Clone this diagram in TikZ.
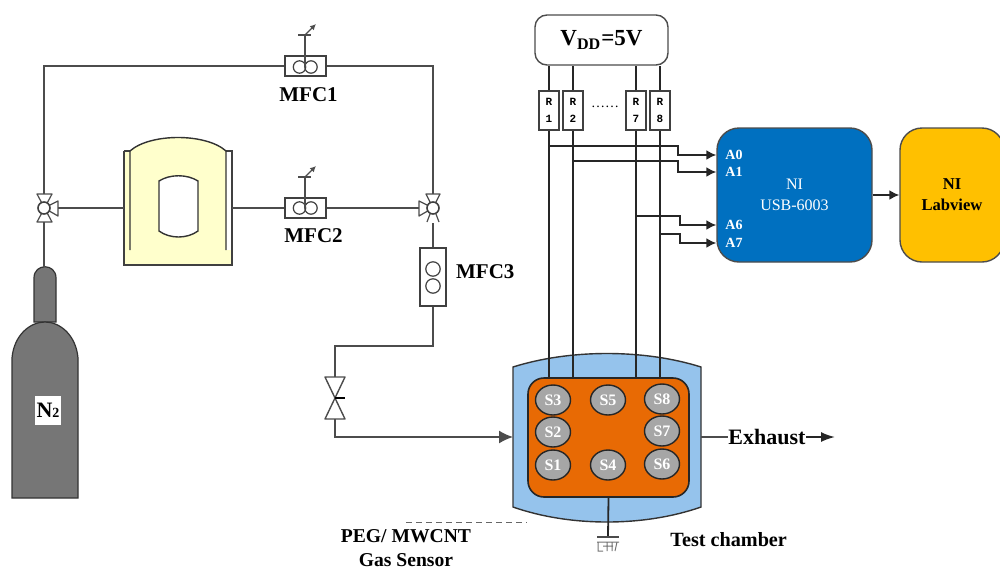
\documentclass[tikz,border=0pt]{standalone}
\usepackage{fontspec}
\setmainfont{Liberation Serif}
\setmonofont{Liberation Mono}
\usepackage{tikz}
\usetikzlibrary{arrows.meta,positioning,shapes.geometric}
\definecolor{SteelBlue}{RGB}{0,112,192}
\definecolor{AmberBox}{RGB}{255,192,0}
\definecolor{BoardOrange}{RGB}{232,106,4}
\definecolor{ChamberBlue}{RGB}{149,195,236}
\definecolor{BubblerYellow}{RGB}{255,255,204}
\definecolor{CylGray}{RGB}{118,118,118}
\definecolor{SensorGray}{RGB}{166,166,166}
\tikzset{>=Latex}
\tikzset{
  pipe/.style={draw=black!70, line width=0.75pt},
  wire/.style={draw=black!85, line width=0.9pt},
  sigarrow/.style={wire, -{Latex[length=5pt,width=5pt]}},
  flowarrow/.style={pipe, -{Latex[length=7pt,width=6.5pt]}},
  part/.style={draw=black!75, line width=0.7pt, fill=white, inner sep=0pt},
  mfcbox/.style={part, minimum width=20.5pt, minimum height=10pt},
  rbox/.style={part, minimum width=10pt, minimum height=19.5pt, align=center, font=\ttfamily\bfseries\fontsize{5.5}{8.5}\selectfont},
  rotor/.style={circle, draw=black!75, line width=0.6pt, minimum size=6.2pt, inner sep=0pt},
  hub/.style={circle, draw=black!75, line width=0.8pt, fill=white, minimum size=6pt, inner sep=0pt},
  tri/.style={draw=black!70, line width=0.6pt, fill=white, line join=round},
  sensor/.style={ellipse, draw=black!85, line width=0.7pt, fill=SensorGray, text=white, minimum width=17.5pt, minimum height=15pt, inner sep=0pt, font=\bfseries\fontsize{8}{9}\selectfont},
  pinlabel/.style={text=white, inner sep=0pt, anchor=west, font=\bfseries\fontsize{7}{8}\selectfont},
  mfclabel/.style={inner sep=0pt, font=\bfseries\fontsize{10.5}{12}\selectfont},
  caption/.style={inner sep=0pt, align=center, font=\bfseries\fontsize{9.8}{12}\selectfont},
  block/.style={draw=black!70, line width=0.7pt, rounded corners=11pt, minimum width=77.5pt, minimum height=67pt, inner sep=0pt},
}

\begin{document}
\begin{tikzpicture}[x=0.5pt, y=-0.5pt]
\useasboundingbox (0,0) rectangle (1000,568);

\draw[draw=black!80, line width=0.6pt, fill=CylGray] (34,322) -- (34,278) .. controls (34,263) and (56,263) .. (56,278) -- (56,322) -- cycle;
\draw[draw=black!80, line width=0.6pt, fill=CylGray] (12,498) -- (12,358) .. controls (14,335) and (30,322) .. (45,322) .. controls (60,322) and (76,335) .. (78,358) -- (78,498) -- cycle;
\node[fill=white, minimum width=13pt, minimum height=14.5pt, inner sep=0pt, font=\bfseries\fontsize{11}{12}\selectfont] (gas) at (48,410) {N\fontsize{7}{8}\selectfont 2};
\coordinate (cyltop) at (44,267);

\fill[BubblerYellow] (124,151) -- (130,151) .. controls (150,133) and (206,133) .. (226,151) -- (226,250) -- (232,250) -- (232,265) -- (124,265) -- cycle;
\draw[draw=black!75, line width=0.6pt] (124,151) -- (124,265) -- (232,265) -- (232,151) -- (226,151);
\draw[draw=black!75, line width=0.6pt] (124,151) -- (130,151);
\draw[draw=black!80, line width=0.7pt] (130,250) -- (130,151) .. controls (150,133) and (206,133) .. (226,151) -- (226,250);
\draw[draw=black!80, line width=0.7pt, fill=white] (159,181) .. controls (170,174) and (187,174) .. (198,181) -- (198,231) .. controls (187,239) and (170,239) .. (159,231) -- cycle;
\coordinate (bubblerw) at (124,208);
\coordinate (bubblere) at (232,208);

\draw[tri] (37,194) -- (52,194) -- (44.5,208) -- cycle;
\draw[tri] (37,222) -- (52,222) -- (44.5,208) -- cycle;
\draw[tri] (58,201) -- (58,216) -- (44,208) -- cycle;
\node[hub] (valvel) at (44,208) {};
\coordinate (valveln) at (44,194);
\coordinate (valvels) at (44,222);
\coordinate (valvele) at (58,208);

\draw[tri] (426,194) -- (440,194) -- (433,208) -- cycle;
\draw[tri] (419,201) -- (419,216) -- (433,208) -- cycle;
\draw[draw=black!70, line width=0.6pt] (427,222) -- (430,214) (439,222) -- (436,214);
\node[hub] (valver) at (433,208) {};
\coordinate (valvern) at (433,194);
\coordinate (valvers) at (433,223);
\coordinate (valverw) at (419,208);

\node[mfcbox] (mfcone) at (305.5,66) {};
\node[rotor] at (299.5,67) {};
\node[rotor] at (311,67) {};
\node[mfclabel, below=5pt of mfcone, xshift=1.5pt] (mfconetext) {MFC1};
\coordinate (trimone) at (305,35);
\draw[pipe, line width=0.6pt] (305,67) -- (trimone);
\draw[pipe, line width=0.6pt] (298,35) -- (311,35);
\draw[pipe, line width=0.6pt, -{Latex[length=3pt,width=3pt]}] (trimone) -- (316,24);

\node[mfcbox] (mfctwo) at (305.5,208) {};
\node[rotor] at (299.5,208) {};
\node[rotor] at (311,208) {};
\node[mfclabel, below=4.5pt of mfctwo, xshift=4pt] (mfctwotext) {MFC2};
\coordinate (trimtwo) at (305,177);
\draw[pipe, line width=0.6pt] (305,208) -- (trimtwo);
\draw[pipe, line width=0.6pt] (298,177) -- (311,177);
\draw[pipe, line width=0.6pt, -{Latex[length=3pt,width=3pt]}] (trimtwo) -- (316,166);

\node[mfcbox, minimum width=13pt, minimum height=29pt] (mfcthree) at (433,277) {};
\node[rotor, minimum size=7.2pt] at (433,269) {};
\node[rotor, minimum size=7.2pt] at (433,286) {};
\node[mfclabel, right=4.5pt of mfcthree, yshift=2.5pt] (mfcthreetext) {MFC3};

\draw[pipe] (valveln) |- (mfcone.west);
\draw[pipe] (mfcone.east) -| (valvern);
\draw[pipe] (valvele) -- (bubblerw);
\draw[pipe] (bubblere) -- (mfctwo.west);
\draw[pipe] (mfctwo.east) -- (valverw);
\draw[pipe] (valvels) -- (cyltop);
\draw[pipe] (valvers) -- (mfcthree.north);

\draw[tri, line width=0.7pt] (325,377) -- (345,377) -- (325,419) -- (345,419) -- cycle;
\coordinate (needlen) at (335,377);
\coordinate (needles) at (335,419);
\coordinate (needlec) at (335,398);
\coordinate (needlebend) at (335,346);
\draw[black, line width=1.4pt] (needlec) -- (345,398);

\draw[draw=black!80, line width=0.7pt, fill=ChamberBlue] (513,367) .. controls (570,349) and (644,349) .. (701,367) -- (701,507) .. controls (644,527) and (570,527) .. (513,507) -- cycle;
\coordinate (chamberw) at (513,437);
\coordinate (chambere) at (701,437);

\node[draw=black!85, line width=0.8pt, fill=BoardOrange, rounded corners=8pt, minimum width=80.5pt, minimum height=59.5pt, inner sep=0pt] (board) at (608.5,437.5) {};
\node[sensor] (sthree) at (553,400) {S3};
\node[sensor] (sfive) at (608,400) {S5};
\node[sensor] (seight) at (662,399) {S8};
\node[sensor] (stwo) at (553,432) {S2};
\node[sensor] (sseven) at (662,431) {S7};
\node[sensor] (sone) at (553,465) {S1};
\node[sensor] (sfour) at (608,465) {S4};
\node[sensor] (ssix) at (662,464) {S6};

\draw[pipe] (mfcthree.south) |- (needlebend) -- (needlen);
\draw[flowarrow] (needles) |- (chamberw);

\node[draw=black!70, line width=0.7pt, rounded corners=6pt, minimum width=66.5pt, minimum height=25pt, inner sep=0pt, font=\bfseries\fontsize{11.5}{14}\selectfont] (vdd) at (601.5,40) {V\textsubscript{DD}=5V};
\node[rbox] (rone) at (549,110.5) {R\\1};
\node[rbox] (rtwo) at (573,110.5) {R\\2};
\node[rbox] (rseven) at (636,110.5) {R\\7};
\node[rbox] (reight) at (660,110.5) {R\\8};
\node[inner sep=0pt, font=\fontsize{7}{8}\selectfont] (rdots) at (605,107) {……};

\draw[wire] (rone.north) -- (rone.north |- vdd.south);
\draw[wire] (rtwo.north) -- (rtwo.north |- vdd.south);
\draw[wire] (rseven.north) -- (rseven.north |- vdd.south);
\draw[wire] (reight.north) -- (reight.north |- vdd.south);
\draw[wire] (rone.south) -- (rone.south |- board.north);
\draw[wire] (rtwo.south) -- (rtwo.south |- board.north);
\draw[wire] (rseven.south) -- (rseven.south |- board.north);
\draw[wire] (reight.south) -- (reight.south |- board.north);

\node[block, fill=SteelBlue, align=center, text=white, font=\fontsize{8}{10.5}\selectfont] (daq) at (794.5,195) {NI\\USB-6003};
\node[block, fill=AmberBox, align=center, font=\bfseries\fontsize{8.3}{10.5}\selectfont, minimum width=52pt] (labview) at (952,195) {NI\\Labview};
\node[pinlabel] (pinzero) at (725,155) {A0};
\node[pinlabel] (pinone) at (725,172) {A1};
\node[pinlabel] (pinsix) at (725,225) {A6};
\node[pinlabel] (pinseven) at (725,243) {A7};

\coordinate (tapzero) at (rone.south |- 0,146);
\coordinate (tapone) at (rtwo.south |- 0,161);
\coordinate (tapsix) at (rseven.south |- 0,216);
\coordinate (tapseven) at (reight.south |- 0,234);
\draw[sigarrow] (tapzero) -- (678,146) |- (daq.west |- pinzero);
\draw[sigarrow] (tapone) -- (678,161) |- (daq.west |- pinone);
\draw[sigarrow] (tapsix) -- (680,216) |- (daq.west |- pinsix);
\draw[sigarrow] (tapseven) -- (680,234) |- (daq.west |- pinseven);
\draw[sigarrow] (daq.east) -- (labview.west);

\node[inner sep=0pt, anchor=west, font=\bfseries\fontsize{11}{12}\selectfont] (exhaust) at (728,437) {Exhaust};
\coordinate (exhaustend) at (835,437);
\draw[pipe] (chambere) -- (exhaust.west);
\draw[wire, -{Latex[length=7pt,width=5pt]}] (exhaust.east) -- (exhaustend);

\node[inner sep=0pt, anchor=west, font=\bfseries\fontsize{10.1}{12}\selectfont] (chambertext) at (670,540) {Test chamber};
\node[caption] (sensortext) at (406,548) {PEG/ MWCNT\\Gas Sensor};
\coordinate (leaderl) at (406,522);
\coordinate (leaderr) at (527,522);
\draw[black!60, densely dashed, line width=0.5pt] (leaderl) -- (leaderr);

\coordinate (groundtop) at (608,537);
\draw[wire] (board.south) -- (groundtop);
\draw[black!70, line width=0.7pt] (597,537) -- (619,537);
\draw[black!55, line width=0.5pt] (597,542) -- (619,542) (598,542) -- (598,551) -- (603,551) (607,542) -- (607,551) (603,546) -- (613,546) (612,542) -- (612,551) (617,542) -- (615,551);
\end{tikzpicture}
\end{document}
